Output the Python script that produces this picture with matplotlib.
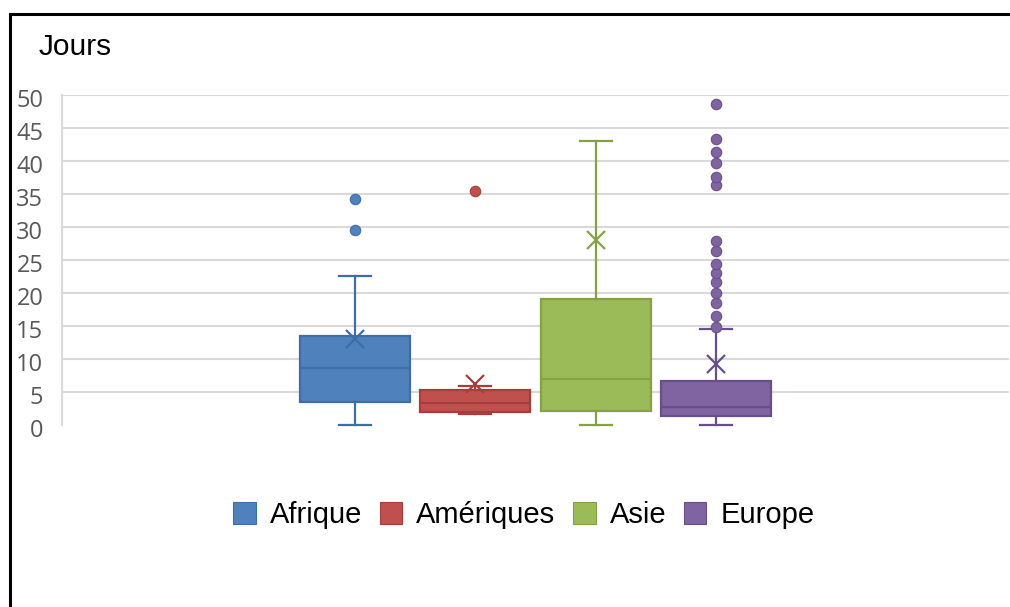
import numpy as np
import matplotlib
matplotlib.use("Agg")
import matplotlib.pyplot as plt
import matplotlib.transforms as mtransforms
from matplotlib.patches import Patch
from matplotlib.lines import Line2D

# durations (jours) par continent : quartiles, moustaches, moyenne, points isolés
continents = ["Afrique", "Amériques", "Asie", "Europe"]
whis_low = [0.0, 1.7, 0.0, 0.0]
q1 = [3.5, 1.9, 2.1, 1.4]
medians = [8.7, 3.4, 6.9, 2.8]
q3 = [13.5, 5.3, 19.1, 6.7]
whis_high = [22.6, 5.9, 43.1, 14.6]
means = [13.0, 6.2, 28.1, 9.3]
outliers = [
    [29.5, 34.3],
    [35.5],
    [],
    [14.8, 16.5, 18.5, 20.0, 21.6, 23.0, 24.4, 26.4, 27.9,
     36.3, 37.6, 39.7, 41.4, 43.3, 48.6],
]
yticks = [0, 5, 10, 15, 20, 25, 30, 35, 40, 45, 50]

fills = ["#4F81BD", "#C0504D", "#9BBB59", "#8064A2"]
edges = ["#3F6DA6", "#A63F3C", "#84A244", "#684F8A"]

fig = plt.figure(figsize=(10.10, 6.07), dpi=100)
ax = fig.add_axes([62 / 1010, 1 - 425 / 607, 947 / 1010, 330 / 607])

stats = []
for i, name in enumerate(continents):
    stats.append(dict(label=name, whislo=whis_low[i], q1=q1[i], med=medians[i],
                      q3=q3[i], whishi=whis_high[i], mean=means[i],
                      fliers=np.array(outliers[i])))

positions = (np.arange(len(continents)) - 1.5) * 0.127
for i in range(len(continents)):
    parts = ax.bxp([stats[i]], positions=[positions[i]], widths=0.116,
                   capwidths=0.034, showmeans=True, patch_artist=True,
                   boxprops=dict(facecolor=fills[i], edgecolor=edges[i], linewidth=1.6),
                   medianprops=dict(color=edges[i], linewidth=1.6),
                   whiskerprops=dict(color=edges[i], linewidth=1.6),
                   capprops=dict(color=edges[i], linewidth=1.6),
                   meanprops=dict(marker="x", markersize=13, markeredgewidth=1.6,
                                  markeredgecolor=edges[i]),
                   flierprops=dict(marker="o", markersize=7.5, markerfacecolor=fills[i],
                                   markeredgecolor=edges[i], markeredgewidth=0.8))
    for key in parts:
        for artist in parts[key]:
            artist.set_clip_on(False)
            artist.set_zorder(3)

ax.set_xlim(-0.5, 0.5)
ax.set_ylim(0, 50)
ax.set_yticks(yticks)
ax.set_xticks([])
for y in yticks[1:]:
    ax.axhline(y, color="#D9D9D9", linewidth=1.5, zorder=1)

for side in ["top", "right", "bottom"]:
    ax.spines[side].set_visible(False)
ax.spines["left"].set_color("#D9D9D9")
ax.spines["left"].set_linewidth(1.5)
ax.tick_params(axis="y", length=0, pad=13.5, labelsize=17, labelcolor="#595959")
# labels sit a little under their gridline
shift = mtransforms.ScaledTranslation(0, -2.5 / 72, fig.dpi_scale_trans)
for lab in ax.get_yticklabels():
    lab.set_family("Open Sans")
    lab.set_transform(lab.get_transform() + shift)

fig.text(39 / 1010, 1 - 55 / 607, "Jours", fontsize=21.5, family="Liberation Sans",
         va="baseline", ha="left")

handles = [Patch(facecolor=fills[i], edgecolor=edges[i], linewidth=0.8)
           for i in range(len(continents))]
fig.legend(handles, continents, loc="center", bbox_to_anchor=(524 / 1010, 1 - 515 / 607),
           ncol=4, frameon=False, prop=dict(family="Liberation Sans", size=21),
           handlelength=0.76, handleheight=0.76, handletextpad=0.48,
           columnspacing=0.62, borderaxespad=0, borderpad=0)

# cadre autour du graphique
fig.add_artist(Line2D([10 / 1010, 10 / 1010], [0, 1 - 14 / 607], color="black",
                      linewidth=2.2, transform=fig.transFigure))
fig.add_artist(Line2D([10 / 1010, 1], [1 - 14 / 607, 1 - 14 / 607], color="black",
                      linewidth=2.2, transform=fig.transFigure))

fig.savefig("out.png", dpi=100)
